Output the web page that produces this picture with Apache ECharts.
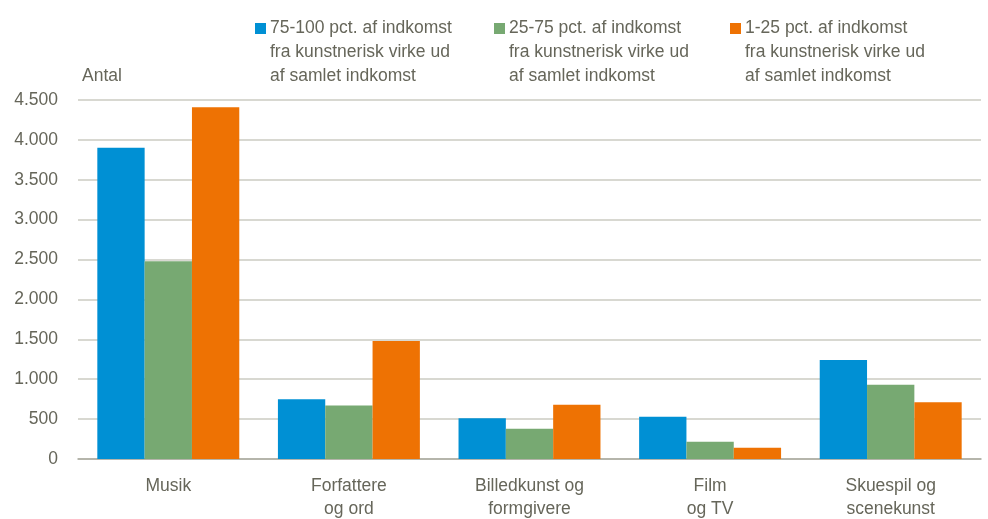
<!DOCTYPE html>
<html>
<head>
<meta charset="utf-8">
<script src="https://cdn.jsdelivr.net/npm/echarts@6/dist/echarts.min.js"></script>
<style>html,body{margin:0;padding:0;background:#fff;}#c{width:988px;height:519px;}</style>
</head>
<body>
<div id="c"></div>
<script>
var categories = ['Musik', 'Forfattere\nog ord', 'Billedkunst og\nformgivere', 'Film\nog TV', 'Skuespil og\nscenekunst'];
var seriesNames = [
  '75-100 pct. af indkomst\nfra kunstnerisk virke ud\naf samlet indkomst',
  '25-75 pct. af indkomst\nfra kunstnerisk virke ud\naf samlet indkomst',
  '1-25 pct. af indkomst\nfra kunstnerisk virke ud\naf samlet indkomst'
];
var high = [3900, 750, 510, 530, 1240];
var mid = [2480, 670, 380, 215, 930];
var low = [4410, 1480, 680, 140, 710];
var yTicks = { min: 0, max: 4500, interval: 500 };
var colors = ['#0090D4', '#77A972', '#EE7203'];

var FONT = 'Liberation Sans, Arial, sans-serif';
var TXT = '#66665A';
var chart = echarts.init(document.getElementById('c'), null, { renderer: 'canvas' });

function fmt(v) {
  var s = String(v);
  if (v >= 1000) s = s.slice(0, s.length - 3) + '.' + s.slice(s.length - 3);
  return s;
}
var legendLefts = [250, 489, 725];
var legends = seriesNames.map(function (n, i) {
  return {
    data: [n],
    left: legendLefts[i],
    top: -36.5,
    orient: 'horizontal',
    itemWidth: 11,
    itemHeight: 11,
    itemGap: 0,
    icon: 'rect',
    selectedMode: false,
    formatter: function (name) { return '\n\n' + name; },
    textStyle: { color: TXT, fontFamily: FONT, fontSize: 17.5, lineHeight: 24, padding: [0, 0, 0, -1] }
  };
});

var data = [high, mid, low];
chart.setOption({
  animation: false,
  textStyle: { fontFamily: FONT },
  legend: legends,
  grid: { left: 78, right: 7, top: 100, bottom: 60, containLabel: false, outerBoundsMode: 'none' },
  xAxis: {
    type: 'category',
    data: categories,
    axisTick: { show: false },
    axisLine: { lineStyle: { color: '#A9A99E', width: 1.5 } },
    axisLabel: { color: TXT, fontFamily: FONT, fontSize: 17.5, lineHeight: 23, margin: 16, interval: 0 }
  },
  yAxis: {
    type: 'value',
    min: yTicks.min, max: yTicks.max, interval: yTicks.interval,
    name: 'Antal',
    nameLocation: 'end',
    nameGap: 24,
    nameTextStyle: { color: TXT, fontFamily: FONT, fontSize: 17.5, align: 'left', verticalAlign: 'middle', padding: [0, 0, 0, 4] },
    axisLine: { show: false },
    axisTick: { show: false },
    splitLine: { lineStyle: { color: '#CBCBC2', width: 1.5 } },
    axisLabel: { color: TXT, fontFamily: FONT, fontSize: 17.5, margin: 20, formatter: fmt }
  },
  series: seriesNames.map(function (n, i) {
    return {
      name: n,
      type: 'bar',
      data: data[i],
      itemStyle: { color: colors[i] },
      barGap: '0%',
      barCategoryGap: '21.4%'
    };
  })
});
</script>
</body>
</html>
